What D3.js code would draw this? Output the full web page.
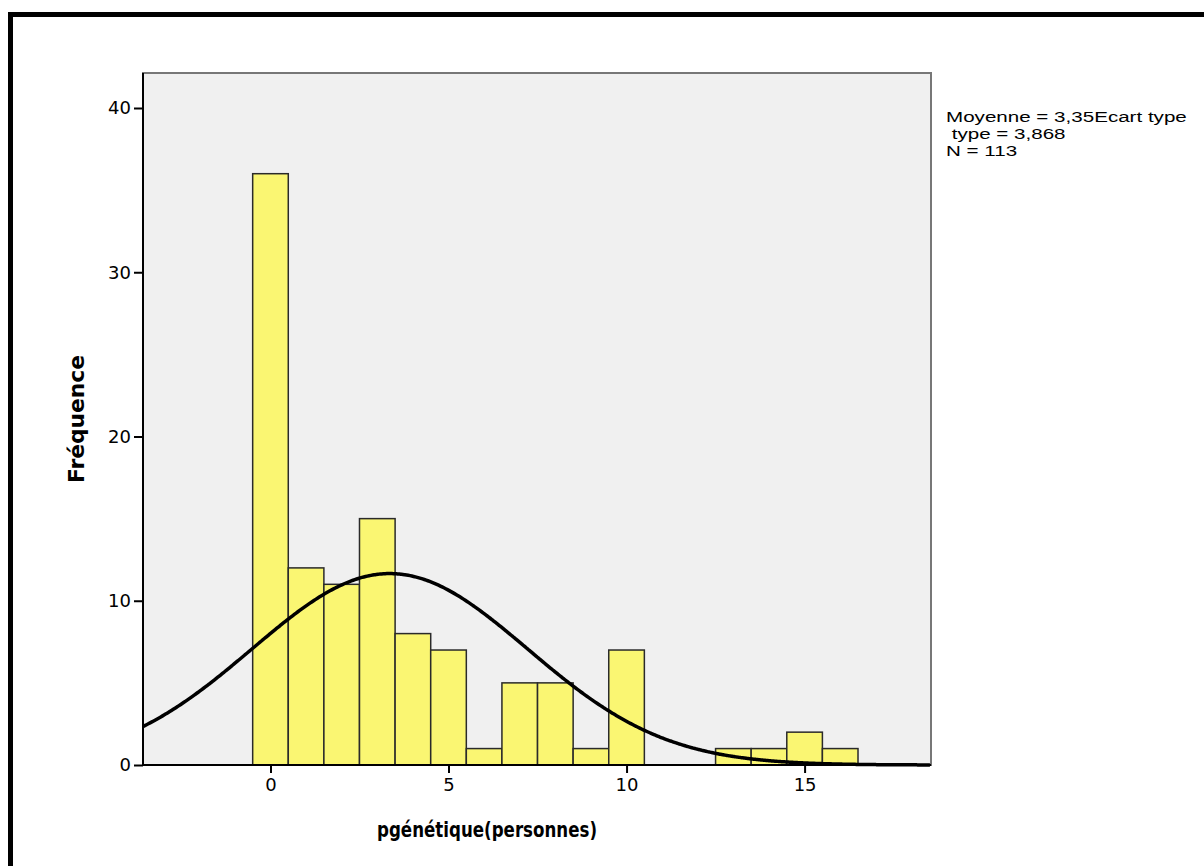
<!DOCTYPE html>
<html>
<head>
<meta charset="utf-8">
<script src="https://d3js.org/d3.v7.min.js"></script>
<style>
  body { margin: 0; background: #fff; }
  svg { display: block; }
</style>
</head>
<body>
<svg width="1204" height="866"></svg>
<script>
// histogram bins (centre values) and counts
var bins = [0, 1, 2, 3, 4, 5, 6, 7, 8, 9, 10, 11, 12, 13, 14, 15, 16];
var counts = [36, 12, 11, 15, 8, 7, 1, 5, 5, 1, 7, 0, 0, 1, 1, 2, 1];
var xTicks = [0, 5, 10, 15];
var yTicks = [0, 10, 20, 30, 40];
var mean = 3.35, sd = 3.868, n = 113;
var legendLines = ["Moyenne = 3,35Ecart type", " type = 3,868", "N = 113"];
var legendY = [122, 139, 156];

var svg = d3.select("svg");
var pLeft = 143, pRight = 931, pTop = 73, pBottom = 765;

var x = d3.scaleLinear().domain([-3.58, 18.55]).range([pLeft, pRight]);
var y = d3.scaleLinear().domain([0, 40]).range([pBottom, 108]);

// outer frame
svg.append("path")
  .attr("d", "M10.5,866 L10.5,14.5 L1204,14.5")
  .attr("fill", "none").attr("stroke", "#000").attr("stroke-width", 5);

// plot background
svg.append("rect")
  .attr("x", pLeft).attr("y", pTop)
  .attr("width", pRight - pLeft).attr("height", pBottom - pTop)
  .attr("fill", "#f0f0f0")
  .attr("stroke", "#777").attr("stroke-width", 2);

// bars
svg.append("g").selectAll("rect")
  .data(bins.filter(function(d, i) { return counts[i] > 0; }))
  .enter().append("rect")
  .attr("x", function(d) { return x(d - 0.5); })
  .attr("width", function(d) { return x(d + 0.5) - x(d - 0.5); })
  .attr("y", function(d) { return y(counts[bins.indexOf(d)]); })
  .attr("height", function(d) { return pBottom - y(counts[bins.indexOf(d)]); })
  .attr("fill", "#faf672")
  .attr("stroke", "#2a2a2a").attr("stroke-width", 1.5);

// normal curve from the stated mean, sd and n
var xs = d3.range(-3.58, 18.56, 0.05);
var line = d3.line()
  .x(function(d) { return x(d); })
  .y(function(d) {
    var z = (d - mean) / sd;
    return y(n * Math.exp(-0.5 * z * z) / (sd * Math.sqrt(2 * Math.PI)));
  })
  .curve(d3.curveBasis);
svg.append("path")
  .datum(xs)
  .attr("d", line)
  .attr("fill", "none").attr("stroke", "#000").attr("stroke-width", 3.5);

// axes
var yAxis = svg.append("g")
  .attr("transform", "translate(" + pLeft + ",0)")
  .call(d3.axisLeft(y).tickValues(yTicks).tickSize(9).tickPadding(3));
var xAxis = svg.append("g")
  .attr("transform", "translate(0," + pBottom + ")")
  .call(d3.axisBottom(x).tickValues(xTicks).tickSize(8).tickPadding(5));
[xAxis, yAxis].forEach(function(a) {
  a.attr("font-size", 18).attr("font-family", "DejaVu Sans, Verdana, sans-serif");
  a.select(".domain").attr("stroke", "#000").attr("stroke-width", 2);
  a.selectAll(".tick line").attr("stroke", "#000").attr("stroke-width", 2);
  a.selectAll("text").attr("fill", "#000");
});
xAxis.select(".domain").attr("d", "M" + pLeft + ",0H" + pRight);
yAxis.select(".domain").attr("d", "M0," + pBottom + "V" + pTop);

// axis titles
svg.append("text")
  .attr("x", 377).attr("y", 837)
  .attr("textLength", 220).attr("lengthAdjust", "spacingAndGlyphs")
  .attr("font-family", "DejaVu Sans, Verdana, sans-serif")
  .attr("font-weight", "bold").attr("font-size", 22)
  .text("pgénétique(personnes)");
svg.append("text")
  .attr("transform", "translate(84,483) rotate(-90)")
  .attr("textLength", 128).attr("lengthAdjust", "spacingAndGlyphs")
  .attr("font-family", "DejaVu Sans, Verdana, sans-serif")
  .attr("font-weight", "bold").attr("font-size", 22)
  .text("Fréquence");

// stats legend
svg.append("g")
  .attr("transform", "translate(946,0) scale(1.42,1)")
  .selectAll("text")
  .data(legendLines)
  .enter().append("text")
  .attr("x", 0)
  .attr("y", function(d, i) { return legendY[i]; })
  .attr("font-family", "Liberation Sans, Arial, sans-serif")
  .attr("font-size", 14.5)
  .style("white-space", "pre")
  .text(function(d) { return d; });
</script>
</body>
</html>
